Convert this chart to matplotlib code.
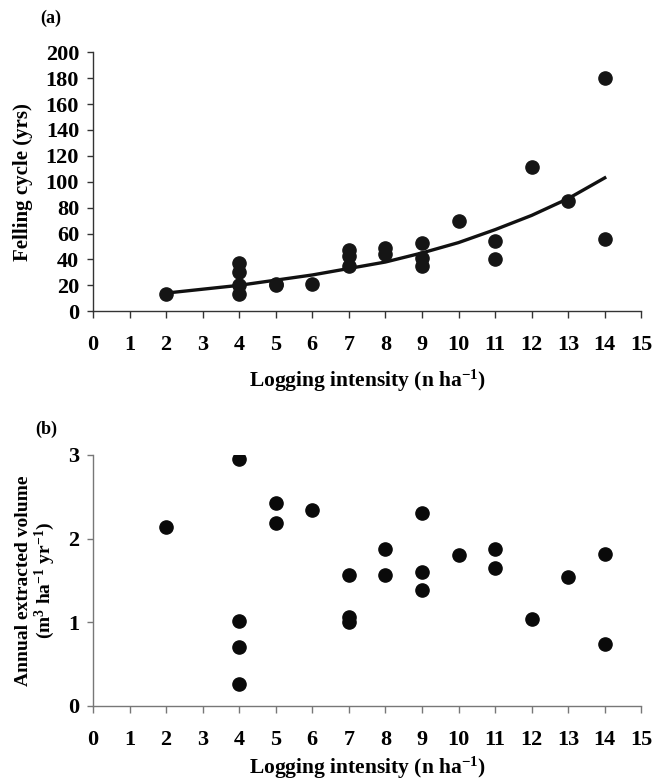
import matplotlib
matplotlib.use("Agg")
import matplotlib.pyplot as plt

plt.rcParams["font.family"] = "Liberation Serif"
plt.rcParams["font.weight"] = "bold"
plt.rcParams["mathtext.fontset"] = "custom"
plt.rcParams["mathtext.rm"] = "Liberation Serif:bold"
plt.rcParams["mathtext.it"] = "Liberation Serif:bold"
plt.rcParams["mathtext.bf"] = "Liberation Serif:bold"

# panel (a): felling cycle vs logging intensity
felling_x = [2, 4, 4, 4, 4, 5, 5, 6, 7, 7, 7, 8, 8, 9, 9, 9, 10, 11, 11, 12, 13, 14, 14]
felling_y = [13, 37, 30, 20, 13, 21, 20, 21, 47, 43, 35, 49, 44, 53, 41, 35, 70, 54, 40, 111, 85, 180, 56]

# fitted trend line, read at each integer intensity
trend_x = [2, 3, 4, 5, 6, 7, 8, 9, 10, 11, 12, 13, 14]
trend_y = [14, 17, 20, 24, 28, 33, 38, 45, 53, 63, 74, 87, 103]

# panel (b): annual extracted volume vs logging intensity
volume_x = [2, 4, 4, 4, 4, 5, 5, 6, 7, 7, 7, 8, 8, 9, 9, 9, 10, 11, 11, 12, 13, 14, 14]
volume_y = [2.14, 2.95, 1.01, 0.70, 0.26, 2.43, 2.19, 2.34, 1.57, 1.06, 1.00,
            1.88, 1.57, 2.31, 1.60, 1.39, 1.80, 1.88, 1.65, 1.04, 1.54, 1.82, 0.74]

x_ticks = list(range(0, 16))


def style_axes(ax, spine_color):
    for side in ("top", "right"):
        ax.spines[side].set_visible(False)
    for side in ("left", "bottom"):
        ax.spines[side].set_color(spine_color)
        ax.spines[side].set_linewidth(1.0)
    ax.set_xlim(0, 15)
    ax.set_xticks(x_ticks)
    ax.tick_params(axis="x", direction="out", length=5, width=1.0,
                   pad=12, labelsize=16, colors=spine_color, labelcolor="black")
    ax.tick_params(axis="y", direction="out", length=4, width=1.0,
                   pad=6, labelsize=16, colors=spine_color, labelcolor="black")
    for lbl in ax.get_xticklabels() + ax.get_yticklabels():
        lbl.set_fontweight("bold")


fig = plt.figure(figsize=(6.52, 7.8), dpi=100)

ax1 = fig.add_axes([0.1426, 0.601, 0.841, 0.332])
ax1.plot(trend_x, trend_y, color="#111111", linewidth=2.4, zorder=2)
ax1.plot(felling_x, felling_y, "o", color="#151515", markersize=9.5, zorder=3)
ax1.set_ylim(0, 200)
ax1.set_yticks(range(0, 201, 20))
style_axes(ax1, "#333333")
ax1.set_ylabel("Felling cycle (yrs)", fontsize=15, fontweight="bold", labelpad=9)
ax1.set_xlabel("Logging intensity (n ha$^{-1}$)", fontsize=15.5, fontweight="bold", labelpad=9)
fig.text(0.062, 0.977, "(a)", fontsize=13, fontweight="bold", va="center", ha="left")

ax2 = fig.add_axes([0.1426, 0.0949, 0.841, 0.322])
ax2.plot(volume_x, volume_y, "o", color="#0a0a0a", markersize=9.5, zorder=3)
ax2.set_ylim(0, 3)
ax2.set_yticks([0, 1, 2, 3])
style_axes(ax2, "#777777")
ax2.set_ylabel("Annual extracted volume\n(m$^{3}$ ha$^{-1}$ yr$^{-1}$)", fontsize=14,
               fontweight="bold", labelpad=8, linespacing=1.05)
ax2.set_xlabel("Logging intensity (n ha$^{-1}$)", fontsize=15.5, fontweight="bold", labelpad=4)
fig.text(0.054, 0.449, "(b)", fontsize=13, fontweight="bold", va="center", ha="left")

fig.savefig("out.png", dpi=100)
